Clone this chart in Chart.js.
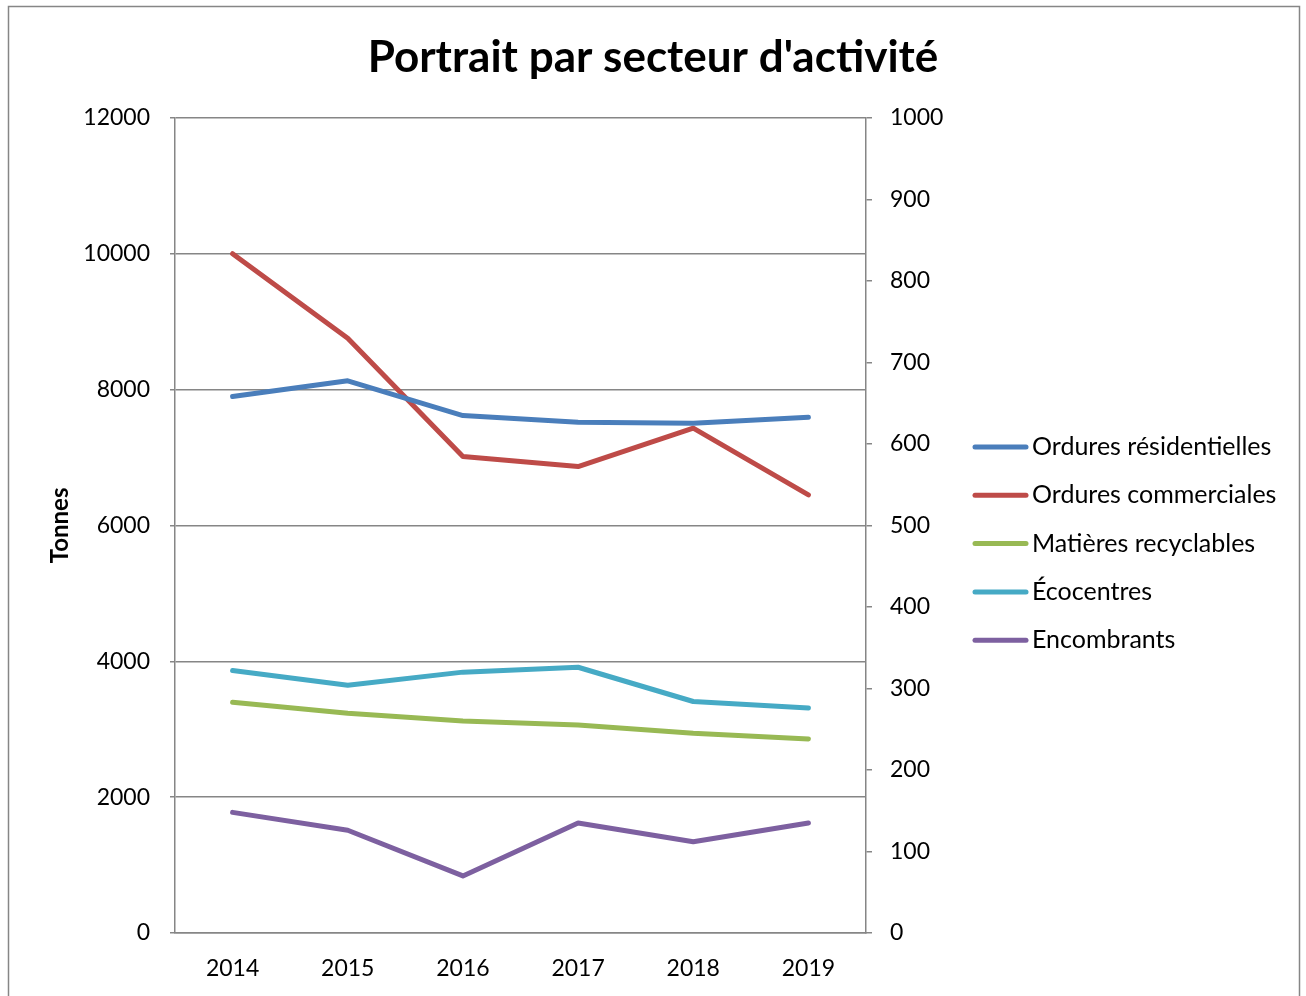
<!DOCTYPE html>
<html>
<head>
<meta charset="utf-8">
<script src="https://cdn.jsdelivr.net/npm/chart.js@4.4.1/dist/chart.umd.min.js"></script>
<style>
  html, body { margin: 0; padding: 0; background: #fff; }
</style>
</head>
<body>
<canvas id="graphSecteur" width="1306" height="996"></canvas>
<script>
// donnees
var annees = ['2014', '2015', '2016', '2017', '2018', '2019'];
var ordResidentielles = [7896, 8128, 7617, 7519, 7505, 7593];
var ordCommerciales = [10000, 8756, 7013, 6866, 7431, 6449];
var matRecyclables = [3397, 3235, 3121, 3063, 2940, 2856];
var ecocentres = [322, 304, 320, 326, 284, 276];   // axe de droite
var encombrants = [148, 126, 70, 135, 112, 135];   // axe de droite

var ticksGauche = [0, 2000, 4000, 6000, 8000, 10000, 12000];
var ticksDroite = [0, 100, 200, 300, 400, 500, 600, 700, 800, 900, 1000];

var gris = '#868686';
Chart.defaults.font.family = 'Lato, "Noto Sans", sans-serif';
Chart.defaults.color = '#000';

function serie(nom, valeurs, couleur, axe) {
  return {
    label: nom,
    data: valeurs,
    yAxisID: axe,
    borderColor: couleur,
    backgroundColor: couleur,
    borderWidth: 5,
    borderCapStyle: 'round',
    borderJoinStyle: 'round',
    pointRadius: 0,
    tension: 0
  };
}

function sansVirgule(v) { return String(v); }

// cadre autour du graphique
var cadre = {
  id: 'cadre',
  beforeDraw: function (chart) {
    var ctx = chart.ctx;
    ctx.save();
    ctx.fillStyle = '#fff';
    ctx.fillRect(0, 0, chart.width, chart.height);
    ctx.strokeStyle = gris;
    ctx.lineWidth = 1.5;
    ctx.strokeRect(8.5, 6.5, 1291, 1010);
    ctx.restore();
  }
};

// legende a droite, dessinee a la main
var legende = {
  id: 'legende',
  afterDraw: function (chart) {
    var ctx = chart.ctx;
    ctx.save();
    ctx.font = '25px Lato, "Noto Sans", sans-serif';
    ctx.textBaseline = 'middle';
    ctx.textAlign = 'left';
    chart.data.datasets.forEach(function (ds, i) {
      var y = 447 + i * 48.3;
      ctx.strokeStyle = ds.borderColor;
      ctx.lineWidth = 5;
      ctx.lineCap = 'round';
      ctx.beginPath();
      ctx.moveTo(975, y);
      ctx.lineTo(1026, y);
      ctx.stroke();
      ctx.fillStyle = '#000';
      ctx.fillText(ds.label, 1032, y);
    });
    ctx.restore();
  }
};

var ctx = document.getElementById('graphSecteur').getContext('2d');
var chart = new Chart(ctx, {
  type: 'line',
  data: {
    labels: annees,
    datasets: [
      serie('Ordures résidentielles', ordResidentielles, '#4A7EBB', 'y'),
      serie('Ordures commerciales', ordCommerciales, '#BE4B48', 'y'),
      serie('Matières recyclables', matRecyclables, '#98B954', 'y'),
      serie('Écocentres', ecocentres, '#46AAC5', 'y1'),
      serie('Encombrants', encombrants, '#7D60A0', 'y1')
    ]
  },
  options: {
    responsive: false,
    animation: false,
    layout: { padding: 0 },
    plugins: {
      legend: { display: false },
      tooltip: { enabled: false },
      title: {
        display: true,
        text: "Portrait par secteur d'activité",
        font: { size: 44, weight: 'bold' },
        color: '#000',
        padding: { top: 31, bottom: 34 }
      }
    },
    scales: {
      x: {
        offset: true,
        grid: { display: false, drawTicks: false },
        border: { display: true, color: gris, width: 1.5 },
        ticks: { font: { size: 23 }, padding: 22, maxRotation: 0 },
        afterFit: function (s) { s.height = 63; }
      },
      y: {
        position: 'left',
        min: 0,
        max: 12000,
        afterBuildTicks: function (s) { s.ticks = ticksGauche.map(function (v) { return { value: v }; }); },
        ticks: { font: { size: 23 }, padding: 20, callback: sansVirgule },
        grid: { color: gris, lineWidth: 1.5, tickLength: 5 },
        border: { display: true, color: gris, width: 1.5 },
        title: {
          display: true,
          text: 'Tonnes',
          font: { size: 24, weight: 'bold' },
          padding: { top: 46, bottom: 0 }
        },
        afterFit: function (s) { s.width = 175; }
      },
      y1: {
        position: 'right',
        min: 0,
        max: 1000,
        afterBuildTicks: function (s) { s.ticks = ticksDroite.map(function (v) { return { value: v }; }); },
        ticks: { font: { size: 23 }, padding: 18, callback: sansVirgule },
        grid: { drawOnChartArea: false, color: gris, lineWidth: 1.5, tickLength: 6 },
        border: { display: true, color: gris, width: 1.5 },
        afterFit: function (s) { s.width = 440; }
      }
    }
  },
  plugins: [cadre, legende]
});
</script>
</body>
</html>
